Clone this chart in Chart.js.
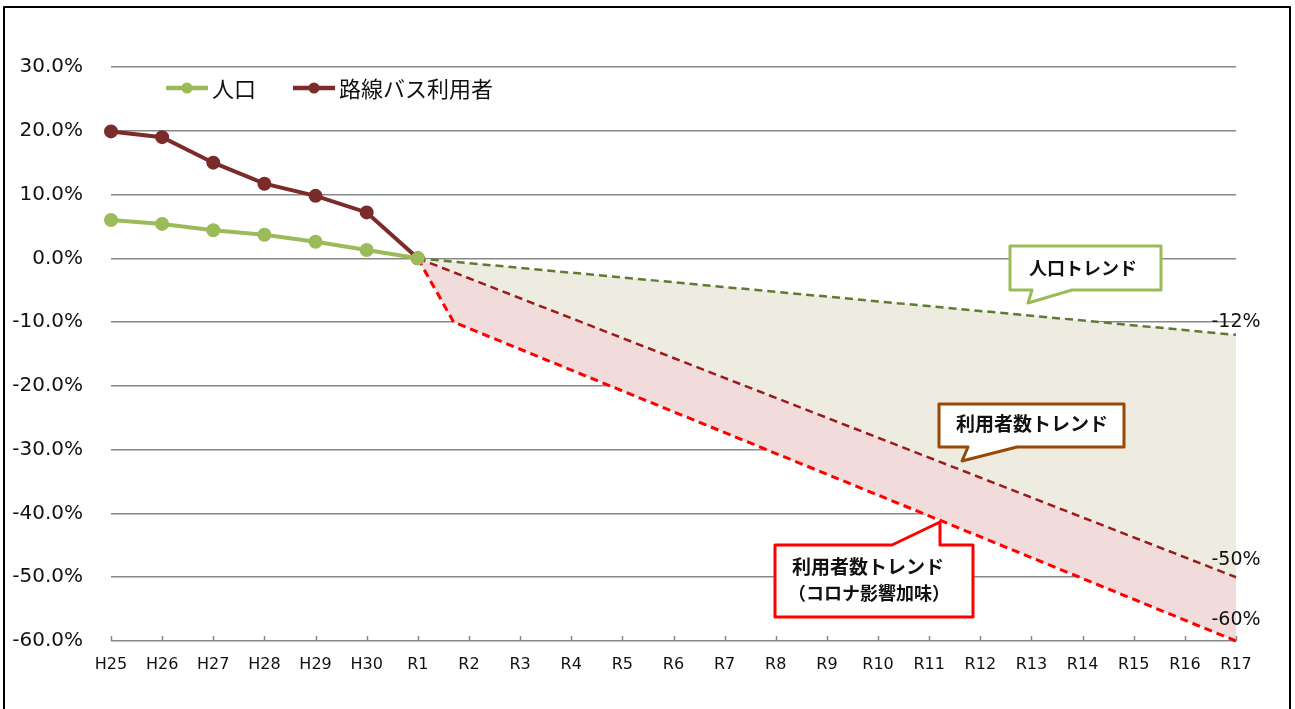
<!DOCTYPE html>
<html>
<head>
<meta charset="utf-8">
<title>路線バス利用者と人口の推移</title>
<script src="https://cdn.jsdelivr.net/npm/chart.js@4/dist/chart.umd.min.js"></script>
<style>
    html, body { margin: 0; padding: 0; background: #fff; }
    #wrap { width: 1295px; height: 709px; position: relative; }
</style>
</head>
<body>
<div id="wrap"><canvas id="busChart" width="1295" height="709"></canvas></div>
<script>
// categories (fiscal years)
const labels = ['H25', 'H26', 'H27', 'H28', 'H29', 'H30', 'R1', 'R2', 'R3', 'R4', 'R5', 'R6',
    'R7', 'R8', 'R9', 'R10', 'R11', 'R12', 'R13', 'R14', 'R15', 'R16', 'R17'];

// actual values, % change vs R1
const population = [6.0, 5.4, 4.4, 3.7, 2.6, 1.3, 0.0];
const busUsers = [19.9, 19.0, 15.0, 11.7, 9.8, 7.2, 0.0];

// trend lines: known points only (x = position on the year axis, 6 = R1, 22 = R17)
const popTrendX = [6, 22];
const popTrendY = [0, -12];
const busTrendX = [6, 22];
const busTrendY = [0, -50];
const coronaTrendX = [6, 6.7, 22];
const coronaTrendY = [0, -10, -60];

const yTicks = [30, 20, 10, 0, -10, -20, -30, -40, -50, -60];

function toPoints(xs, ys) {
    return ys.map((v, i) => ({ x: xs[i], y: v }));
}
function byYear(values) {
    return values.map((v, i) => ({ x: i, y: v }));
}

const GREEN = '#9bbb59';
const MAROON = '#7b2c2a';
const LABEL_FONT = 'DejaVu Sans';
const JP_FONT = '"Noto Sans CJK JP"';

// legend, callouts, end labels, frame
const decorPlugin = {
    id: 'decor',
    afterDraw(chart) {
        const ctx = chart.ctx;
        const x = chart.scales.x;
        const y = chart.scales.y;
        ctx.save();

        // small upward tick marks on the bottom axis
        ctx.strokeStyle = '#888';
        ctx.lineWidth = 1.5;
        labels.forEach((l, i) => {
            const px = Math.round(x.getPixelForValue(i)) + 0.5;
            ctx.beginPath();
            ctx.moveTo(px, y.bottom);
            ctx.lineTo(px, y.bottom - 5);
            ctx.stroke();
        });

        // legend
        const legendItems = [
            { text: '人口', color: GREEN, x0: 166 },
            { text: '路線バス利用者', color: MAROON, x0: 293 }
        ];
        legendItems.forEach(item => {
            ctx.strokeStyle = item.color;
            ctx.lineWidth = 4.5;
            ctx.beginPath();
            ctx.moveTo(item.x0, 88);
            ctx.lineTo(item.x0 + 42, 88);
            ctx.stroke();
            ctx.fillStyle = item.color;
            ctx.beginPath();
            ctx.arc(item.x0 + 21, 88, 5.5, 0, Math.PI * 2);
            ctx.fill();
            ctx.fillStyle = '#111';
            ctx.font = '22px ' + JP_FONT;
            ctx.textAlign = 'left';
            ctx.textBaseline = 'middle';
            ctx.fillText(item.text, item.x0 + 46, 89);
        });

        // percentage labels at the end of the trend lines
        const endLabels = [
            { x: popTrendX[popTrendX.length - 1], value: popTrendY[popTrendY.length - 1], dy: -13 },
            { x: busTrendX[busTrendX.length - 1], value: busTrendY[busTrendY.length - 1], dy: -17 },
            { x: coronaTrendX[coronaTrendX.length - 1], value: coronaTrendY[coronaTrendY.length - 1], dy: -21 }
        ];
        ctx.font = '19px ' + LABEL_FONT;
        ctx.fillStyle = '#111';
        ctx.textAlign = 'center';
        ctx.textBaseline = 'middle';
        endLabels.forEach(e => {
            ctx.fillText(e.value + '%', x.getPixelForValue(e.x), y.getPixelForValue(e.value) + e.dy);
        });

        // speech-bubble callouts
        function bubble(b, color) {
            ctx.beginPath();
            ctx.moveTo(b.l, b.t);
            if (b.side === 'top') {
                ctx.lineTo(b.base[0], b.t);
                ctx.lineTo(b.tip[0], b.tip[1]);
                ctx.lineTo(b.base[1], b.t);
            }
            ctx.lineTo(b.r, b.t);
            ctx.lineTo(b.r, b.b);
            if (b.side === 'bottom') {
                ctx.lineTo(b.base[1], b.b);
                ctx.lineTo(b.tip[0], b.tip[1]);
                ctx.lineTo(b.base[0], b.b);
            }
            ctx.lineTo(b.l, b.b);
            ctx.closePath();
            ctx.fillStyle = '#fff';
            ctx.fill();
            ctx.strokeStyle = color;
            ctx.lineWidth = 3;
            ctx.lineJoin = 'round';
            ctx.stroke();
        }

        bubble({ l: 1010, t: 246, r: 1161, b: 290, side: 'bottom', base: [1032, 1072], tip: [1028, 303] }, GREEN);
        bubble({ l: 939, t: 404, r: 1124, b: 447, side: 'bottom', base: [968, 1017], tip: [962, 461] }, '#984807');
        bubble({ l: 775, t: 545, r: 973, b: 617, side: 'top', base: [892, 940], tip: [940, 522] }, '#ff0000');

        ctx.fillStyle = '#111';
        ctx.font = 'bold 18px ' + JP_FONT;
        ctx.textBaseline = 'middle';
        ctx.textAlign = 'center';
        ctx.fillText('人口トレンド', 1083, 268);
        ctx.font = 'bold 19px ' + JP_FONT;
        ctx.fillText('利用者数トレンド', 1032, 424);
        ctx.textAlign = 'left';
        ctx.fillText('利用者数トレンド', 792, 567);
        ctx.font = 'bold 18px ' + JP_FONT;
        ctx.fillText('（コロナ影響加味）', 788, 593);

        // outer frame
        ctx.strokeStyle = '#000';
        ctx.lineWidth = 2;
        ctx.strokeRect(4, 7, 1286, 730);

        ctx.restore();
    }
};

const ctx = document.getElementById('busChart').getContext('2d');

new Chart(ctx, {
    type: 'line',
    data: {
        datasets: [
            {
                label: '人口',
                data: byYear(population),
                borderColor: GREEN,
                backgroundColor: GREEN,
                borderWidth: 4,
                pointRadius: 5,
                pointBackgroundColor: GREEN,
                pointBorderColor: GREEN,
                tension: 0,
                clip: false,
                fill: false
            },
            {
                label: '路線バス利用者',
                data: byYear(busUsers),
                borderColor: MAROON,
                backgroundColor: MAROON,
                borderWidth: 4,
                pointRadius: 5,
                pointBackgroundColor: MAROON,
                pointBorderColor: MAROON,
                tension: 0,
                clip: false,
                fill: false
            },
            {
                label: '人口トレンド',
                data: toPoints(popTrendX, popTrendY),
                borderColor: '#5f7a32',
                borderWidth: 2.5,
                borderDash: [8, 5],
                pointRadius: 0,
                clip: false,
                fill: { target: '+1', above: '#eeece1', below: '#eeece1' }
            },
            {
                label: '利用者数トレンド',
                data: toPoints(busTrendX, busTrendY),
                borderColor: '#9b1b1b',
                borderWidth: 2.5,
                borderDash: [8, 5],
                pointRadius: 0,
                clip: false,
                fill: { target: '+1', above: '#f2dcdb', below: '#f2dcdb' }
            },
            {
                label: '利用者数トレンド（コロナ影響加味）',
                data: toPoints(coronaTrendX, coronaTrendY),
                borderColor: '#ff0000',
                borderWidth: 3,
                borderDash: [8, 5],
                pointRadius: 0,
                clip: false,
                fill: false
            }
        ]
    },
    options: {
        responsive: false,
        animation: false,
        layout: { padding: { top: 67, right: 59, bottom: 0, left: 0 } },
        plugins: {
            legend: { display: false },
            tooltip: { enabled: false },
            filler: { drawTime: 'beforeDatasetsDraw' }
        },
        scales: {
            x: {
                type: 'linear',
                min: 0,
                max: labels.length - 1,
                afterBuildTicks(scale) { scale.ticks = labels.map((l, i) => ({ value: i })); },
                grid: { display: false, drawTicks: false },
                border: { display: false },
                ticks: {
                    color: '#111',
                    font: { family: LABEL_FONT, size: 16 },
                    padding: 14,
                    autoSkip: false,
                    maxRotation: 0,
                    callback: v => labels[v]
                },
                afterFit(scale) { scale.height = 68; }
            },
            y: {
                min: -60,
                max: 30,
                afterBuildTicks(scale) { scale.ticks = yTicks.map(v => ({ value: v })); },
                grid: { color: '#888', lineWidth: 1.5, drawTicks: false },
                border: { display: false },
                ticks: {
                    color: '#111',
                    font: { family: LABEL_FONT, size: 20 },
                    padding: 28,
                    callback: v => v.toFixed(1) + '%'
                },
                afterFit(scale) { scale.width = 111; }
            }
        }
    },
    plugins: [decorPlugin]
});
</script>
</body>
</html>
